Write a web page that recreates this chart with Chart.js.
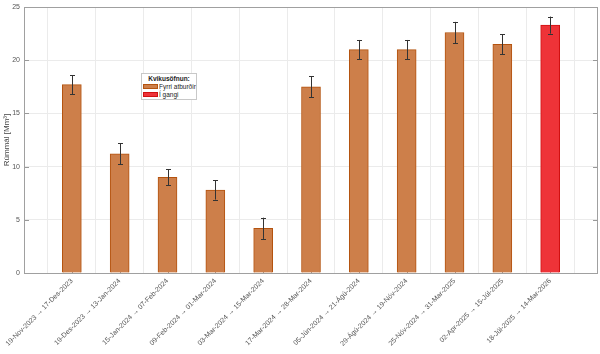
<!DOCTYPE html>
<html><head><meta charset="utf-8">
<script src="https://cdn.jsdelivr.net/npm/chart.js@4/dist/chart.umd.min.js"></script>
<style>
html,body{margin:0;padding:0;background:#fff;}
#wrap{position:relative;width:600px;height:354px;}
#legend{position:absolute;left:141px;top:73px;width:56px;height:27px;border:1px solid #c8c8c8;background:#fff;font-family:"Liberation Sans",Arial,sans-serif;font-size:6.5px;color:#222;box-sizing:border-box;white-space:nowrap;}
#legend .t{text-align:center;font-weight:bold;margin-top:1px;line-height:8px;}
#legend .r{display:flex;align-items:center;line-height:7.5px;height:7.5px;}
#legend .s{flex:0 0 15px;width:15px;height:5px;margin:0 1px 0 1px;box-sizing:border-box;}
</style></head>
<body><div id="wrap"><canvas id="c" width="600" height="354"></canvas>
<div id="legend"><div class="t">Kvikusöfnun:</div>
<div class="r"><div class="s" style="background:#CD7F4A;border:1px solid #B4530F"></div><span>Fyrri atburðir</span></div>
<div class="r"><div class="s" style="background:#EE3338;border:1px solid #D01010"></div><span>Í gangi</span></div></div>
</div>
<script>
const categories = ['19-Nov-2023 → 17-Des-2023','19-Des-2023 → 13-Jan-2024','15-Jan-2024 → 07-Feb-2024','09-Feb-2024 → 01-Mar-2024','03-Mar-2024 → 15-Mar-2024','17-Mar-2024 → 28-Mar-2024','05-Jún-2024 → 21-Ágú-2024','29-Ágú-2024 → 19-Nóv-2024','25-Nóv-2024 → 31-Mar-2025','02-Apr-2025 → 15-Júl-2025','18-Júl-2025 → 14-Mar-2026'];
const volumes = [17.7, 11.2, 9.0, 7.8, 4.2, 17.5, 21.0, 21.0, 22.6, 21.5, 23.3];
const errors  = [0.9, 1.0, 0.75, 0.9, 1.0, 1.0, 0.9, 0.9, 1.0, 0.95, 0.8];
const ongoing = [false,false,false,false,false,false,false,false,false,false,true];
const yTicks = [0,5,10,15,20,25];

const labels = [''].concat(categories).concat(['']);
const data = [null].concat(volumes).concat([null]);
const errs = [null].concat(errors).concat([null]);
const fill = [null].concat(ongoing.map(o=>o?'#EE3338':'#CD7F4A')).concat([null]);
const border = [null].concat(ongoing.map(o=>o?'#D01010':'#B4530F')).concat([null]);

const extras = {
  id:'extras',
  beforeDatasetsDraw(chart){
    const {ctx, chartArea:a, scales:{x,y}} = chart;
    ctx.save();
    ctx.strokeStyle='#999'; ctx.lineWidth=1;
    for(let i=1;i<labels.length-1;i++){
      const px=Math.round(x.getPixelForValue(i))+0.5;
      ctx.beginPath(); ctx.moveTo(px,a.bottom); ctx.lineTo(px,a.bottom-5); ctx.stroke();
    }
    ctx.restore();
  },
  afterDatasetsDraw(chart){
    const {ctx, chartArea:a, scales:{x,y}} = chart;
    const meta = chart.getDatasetMeta(0);
    ctx.save();
    ctx.strokeStyle='#333'; ctx.lineWidth=1;
    for(let i=0;i<data.length;i++){
      if(data[i]==null) continue;
      const px=Math.round(meta.data[i].x)+0.5;
      const t=y.getPixelForValue(data[i]+errs[i]);
      const b=y.getPixelForValue(data[i]-errs[i]);
      ctx.beginPath();
      ctx.moveTo(px,t); ctx.lineTo(px,b);
      ctx.moveTo(px-2.5,Math.round(t)+0.5); ctx.lineTo(px+2.5,Math.round(t)+0.5);
      ctx.moveTo(px-2.5,Math.round(b)+0.5); ctx.lineTo(px+2.5,Math.round(b)+0.5);
      ctx.stroke();
    }
    ctx.strokeStyle='#999';
    yTicks.forEach(v=>{
      const py=Math.round(y.getPixelForValue(v))+0.5;
      ctx.beginPath(); ctx.moveTo(a.left,py); ctx.lineTo(a.left+5,py);
      ctx.moveTo(a.right,py); ctx.lineTo(a.right-5,py); ctx.stroke();
    });
    ctx.strokeStyle='#a0a0a0';
    ctx.strokeRect(Math.round(a.left)+0.5, Math.round(a.top)+0.5, Math.round(a.right-a.left)-1, Math.round(a.bottom-a.top));
    ctx.restore();
  }
};

new Chart(document.getElementById('c'), {
  type:'bar',
  data:{labels, datasets:[{data, backgroundColor:fill, borderColor:border, borderWidth:1, barThickness:19}]},
  options:{
    responsive:false, animation:false,
    layout:{padding:{top:7,right:2,left:0,bottom:0}},
    plugins:{legend:{display:false}, tooltip:{enabled:false}},
    scales:{
      x:{offset:false,
        grid:{color:'#ebebeb', drawTicks:false},
        border:{display:false},
        ticks:{minRotation:45,maxRotation:45,autoSkip:false,padding:4,color:'#555',font:{family:'"Liberation Sans", Arial, sans-serif',size:7}},
        afterFit(s){s.height=81; s.paddingLeft=0; s.paddingRight=0;}
      },
      y:{min:0,max:25,
        grid:{color:'#ebebeb', drawTicks:false},
        border:{display:false},
        afterBuildTicks(s){s.ticks=yTicks.map(v=>({value:v}));},
        ticks:{padding:4,color:'#555',font:{family:'"Liberation Sans", Arial, sans-serif',size:7}},
        title:{display:true,text:'Rúmmál [Mm³]',color:'#444',padding:{top:2,bottom:1},font:{family:'"Liberation Sans", Arial, sans-serif',size:8}},
        afterFit(s){s.width=24; s.paddingTop=0; s.paddingBottom=0;}
      }
    }
  },
  plugins:[extras]
});
</script></body></html>
